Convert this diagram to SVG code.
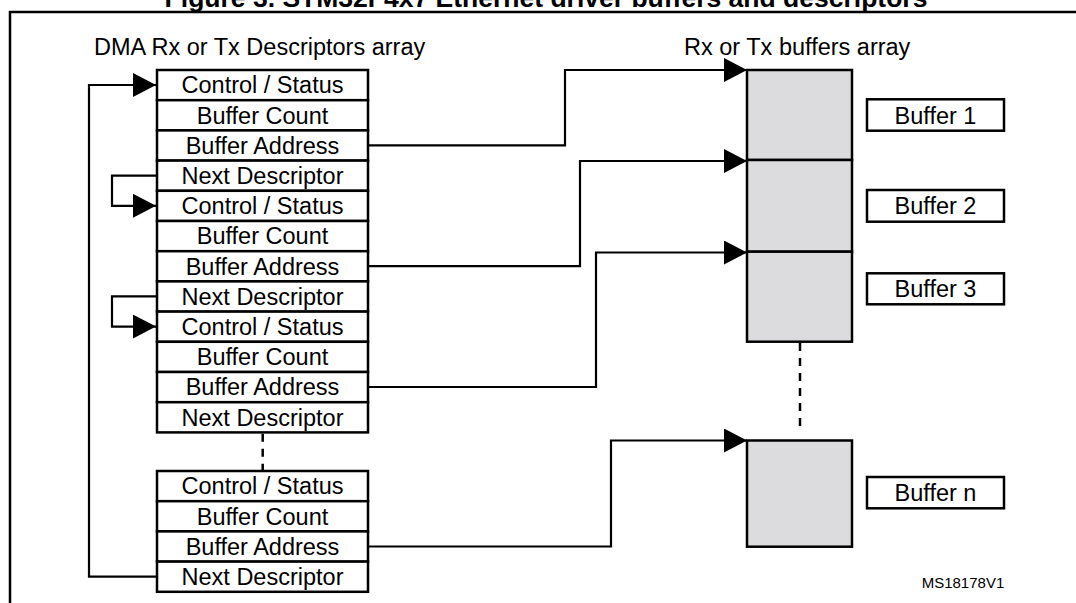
<svg xmlns="http://www.w3.org/2000/svg" width="1076" height="603" viewBox="0 0 1076 603">
<defs>
<style>
text{font-family:"Liberation Sans",Arial,Helvetica,sans-serif;fill:#000}
.t{font-size:23.5px;text-anchor:middle}
.h{font-size:23.5px}
.cell{fill:#fff;stroke:#000;stroke-width:2.5}
.buf{fill:#dcdcde;stroke:#000;stroke-width:2.5}
.lbl{fill:#fff;stroke:#000;stroke-width:2.5}
.con{fill:none;stroke:#000;stroke-width:2.2}
.dash{fill:none;stroke:#000;stroke-width:2.5;stroke-dasharray:8 7}
</style>
<marker id="ah" viewBox="0 0 23 24" refX="23" refY="12" markerWidth="23" markerHeight="24" markerUnits="userSpaceOnUse" orient="auto">
<path d="M0,0 L23,12 L0,24 Z" fill="#000"/>
</marker>
</defs>
<rect width="1076" height="603" fill="#fff"/>
<text x="546" y="7" style="font-size:26.5px;font-weight:bold;text-anchor:middle">Figure 3. STM32F4x7 Ethernet driver buffers and descriptors</text>
<path d="M10,603 V12 H1076" fill="none" stroke="#000" stroke-width="2.5"/>
<text class="h" x="94" y="55">DMA Rx or Tx Descriptors array</text>
<text class="h" x="684" y="55">Rx or Tx buffers array</text>

<g id="desc1">
<rect class="cell" x="157" y="70" width="211" height="30.2"/><text class="t" x="262.5" y="93.4">Control / Status</text>
<rect class="cell" x="157" y="100.2" width="211" height="30.2"/><text class="t" x="262.5" y="123.6">Buffer Count</text>
<rect class="cell" x="157" y="130.4" width="211" height="30.2"/><text class="t" x="262.5" y="153.8">Buffer Address</text>
<rect class="cell" x="157" y="160.6" width="211" height="30.2"/><text class="t" x="262.5" y="184">Next Descriptor</text>
</g>
<g id="desc2">
<rect class="cell" x="157" y="190.8" width="211" height="30.2"/><text class="t" x="262.5" y="214.2">Control / Status</text>
<rect class="cell" x="157" y="221" width="211" height="30.2"/><text class="t" x="262.5" y="244.4">Buffer Count</text>
<rect class="cell" x="157" y="251.2" width="211" height="30.2"/><text class="t" x="262.5" y="274.6">Buffer Address</text>
<rect class="cell" x="157" y="281.4" width="211" height="30.2"/><text class="t" x="262.5" y="304.8">Next Descriptor</text>
</g>
<g id="desc3">
<rect class="cell" x="157" y="311.6" width="211" height="30.2"/><text class="t" x="262.5" y="335">Control / Status</text>
<rect class="cell" x="157" y="341.8" width="211" height="30.2"/><text class="t" x="262.5" y="365.2">Buffer Count</text>
<rect class="cell" x="157" y="372" width="211" height="30.2"/><text class="t" x="262.5" y="395.4">Buffer Address</text>
<rect class="cell" x="157" y="402.2" width="211" height="30.2"/><text class="t" x="262.5" y="425.6">Next Descriptor</text>
</g>
<g id="descn">
<rect class="cell" x="157" y="471" width="211" height="30.2"/><text class="t" x="262.5" y="494.4">Control / Status</text>
<rect class="cell" x="157" y="501.2" width="211" height="30.2"/><text class="t" x="262.5" y="524.6">Buffer Count</text>
<rect class="cell" x="157" y="531.4" width="211" height="30.2"/><text class="t" x="262.5" y="554.8">Buffer Address</text>
<rect class="cell" x="157" y="561.6" width="211" height="30.2"/><text class="t" x="262.5" y="585">Next Descriptor</text>
</g>

<g id="buffer1"><rect class="buf" x="747" y="70" width="105" height="90"/></g>
<g id="buffer2"><rect class="buf" x="747" y="160" width="105" height="91.7"/></g>
<g id="buffer3"><rect class="buf" x="747" y="251.7" width="105" height="90"/></g>
<g id="buffern"><rect class="buf" x="747" y="440.5" width="105" height="106.2"/></g>

<g id="label1"><rect class="lbl" x="867" y="99.3" width="137" height="31.4"/><text class="t" x="935.5" y="123.5">Buffer 1</text></g>
<g id="label2"><rect class="lbl" x="867" y="190" width="137" height="31.7"/><text class="t" x="935.5" y="214.3">Buffer 2</text></g>
<g id="label3"><rect class="lbl" x="867" y="273.3" width="137" height="31"/><text class="t" x="935.5" y="297.3">Buffer 3</text></g>
<g id="labeln"><rect class="lbl" x="867" y="477" width="137" height="31.3"/><text class="t" x="935.5" y="501">Buffer n</text></g>

<g id="connectors">
<path class="con" d="M368,145.4 H565 V70 H747" marker-end="url(#ah)"/>
<path class="con" d="M368,266.2 H580 V161 H747" marker-end="url(#ah)"/>
<path class="con" d="M368,387 H596 V252.5 H747" marker-end="url(#ah)"/>
<path class="con" d="M368,546.5 H611 V440.5 H747" marker-end="url(#ah)"/>
<path class="con" d="M157,576.7 H89 V85 H156" marker-end="url(#ah)"/>
<path class="con" d="M157,175.6 H112 V205.8 H156" marker-end="url(#ah)"/>
<path class="con" d="M157,296.4 H112 V326.6 H156" marker-end="url(#ah)"/>
<path class="dash" d="M262.7,433.7 V470"/>
<path class="dash" d="M800,343 V431"/>
</g>
<text x="921.7" y="588" style="font-size:15px">MS18178V1</text>
</svg>
